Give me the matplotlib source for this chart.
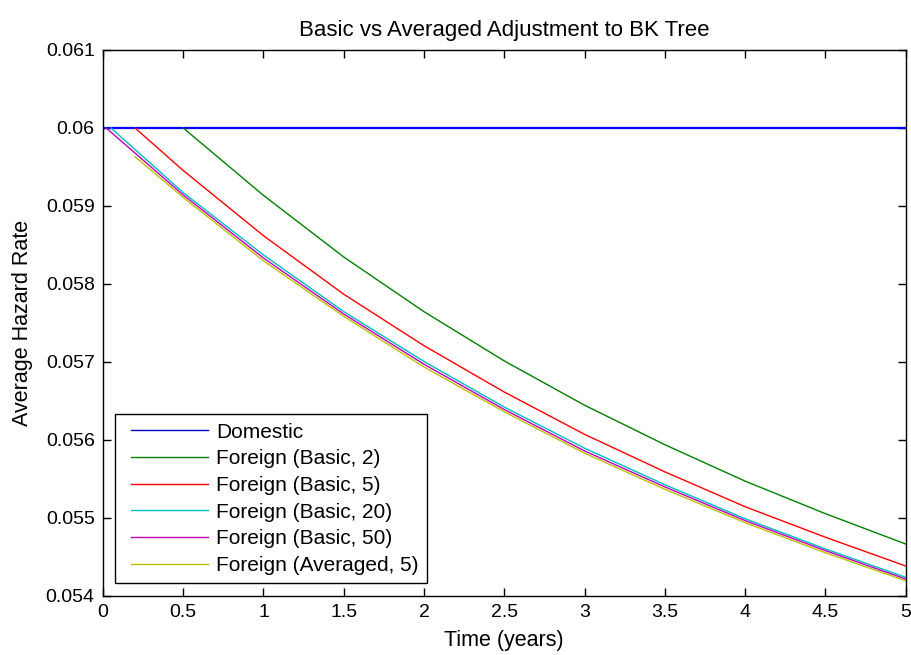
import numpy as np
import matplotlib
matplotlib.use("Agg")
from matplotlib import pyplot as plt
from matplotlib.legend_handler import HandlerLine2D

plt.rcParams['font.family'] = ['Liberation Sans', 'DejaVu Sans']

# data
t_dom = [0.0, 5.0]
h_dom = [0.060, 0.060]

t_b2 = [0.5, 1.0, 1.5, 2.0, 2.5, 3.0, 3.5, 4.0, 4.5, 5.0]
h_b2 = [0.060, 0.059136, 0.058346, 0.057645, 0.057014, 0.056446, 0.05594, 0.055473, 0.055056, 0.054667]

t_b5 = [0.2, 0.5, 1.0, 1.5, 2.0, 2.5, 3.0, 3.5, 4.0, 4.5, 5.0]
h_b5 = [0.060, 0.059455, 0.058619, 0.057869, 0.057209, 0.056615, 0.056073, 0.055592, 0.055145, 0.054754, 0.054385]

t_b20 = [0.05, 0.5, 1.0, 1.5, 2.0, 2.5, 3.0, 3.5, 4.0, 4.5, 5.0]
h_b20 = [0.060, 0.059171, 0.058372, 0.057646, 0.057006, 0.056422, 0.055895, 0.055427, 0.054991, 0.054604, 0.05424]

t_b50 = [0.02, 0.5, 1.0, 1.5, 2.0, 2.5, 3.0, 3.5, 4.0, 4.5, 5.0]
h_b50 = [0.060, 0.059141, 0.058333, 0.057615, 0.056971, 0.056391, 0.05586, 0.055399, 0.054967, 0.054582, 0.054218]

t_avg5 = [0.2, 0.5, 1.0, 1.5, 2.0, 2.5, 3.0, 3.5, 4.0, 4.5, 5.0]
h_avg5 = [0.059632, 0.059109, 0.058297, 0.057585, 0.056936, 0.056362, 0.055831, 0.055369, 0.05494, 0.054555, 0.054196]

xticks = np.arange(0, 5.01, 0.5)
xlabels = ['0', '0.5', '1', '1.5', '2', '2.5', '3', '3.5', '4', '4.5', '5']
yticks = np.arange(0.054, 0.0611, 0.001)
ylabels = ['0.054', '0.055', '0.056', '0.057', '0.058', '0.059', '0.06', '0.061']

fig = plt.figure(figsize=(9.12, 6.55), dpi=100)
ax = fig.add_axes([0.1129, 0.0901, 0.88, 0.8336])

# domestic line looks heavier in the plot than in the legend
ax.plot(t_dom, h_dom, color=(0, 0, 1), lw=1.6)
ax.plot([], [], color=(0, 0, 0.8), lw=1.0, label='Domestic')
ax.plot(t_b2, h_b2, color=(0, 0.5, 0), lw=1.0, label='Foreign (Basic, 2)')
ax.plot(t_b5, h_b5, color=(1, 0, 0), lw=1.0, label='Foreign (Basic, 5)')
ax.plot(t_b20, h_b20, color=(0, 0.75, 0.75), lw=1.0, label='Foreign (Basic, 20)')
ax.plot(t_b50, h_b50, color=(0.75, 0, 0.75), lw=1.0, label='Foreign (Basic, 50)')
ax.plot(t_avg5, h_avg5, color=(0.75, 0.75, 0), lw=1.0, label='Foreign (Averaged, 5)')

ax.set_xlim(0, 5)
ax.set_ylim(0.054, 0.061)
ax.set_xticks(xticks)
ax.set_xticklabels(xlabels)
ax.set_yticks(yticks)
ax.set_yticklabels(ylabels)
ax.tick_params(direction='in', length=5.5, width=1, top=True, right=True, labelsize=14, pad=6)
for s in ax.spines.values():
    s.set_linewidth(1.0)

ax.set_xlabel('Time (years)', fontsize=15.5, labelpad=6)
ax.set_ylabel('Average Hazard Rate', fontsize=15.5, labelpad=9)
ax.set_title('Basic vs Averaged Adjustment to BK Tree', fontsize=16, pad=10)

leg = ax.legend(loc='lower left', fontsize=15, handlelength=4.04, handletextpad=0.4,
                fancybox=False, edgecolor='black', framealpha=1, borderaxespad=0.6,
                labelspacing=0.37, borderpad=0.4,
                handler_map={matplotlib.lines.Line2D: HandlerLine2D(xpad=0.34)})
leg.get_frame().set_linewidth(1.0)

fig.savefig('out.png', dpi=100)
